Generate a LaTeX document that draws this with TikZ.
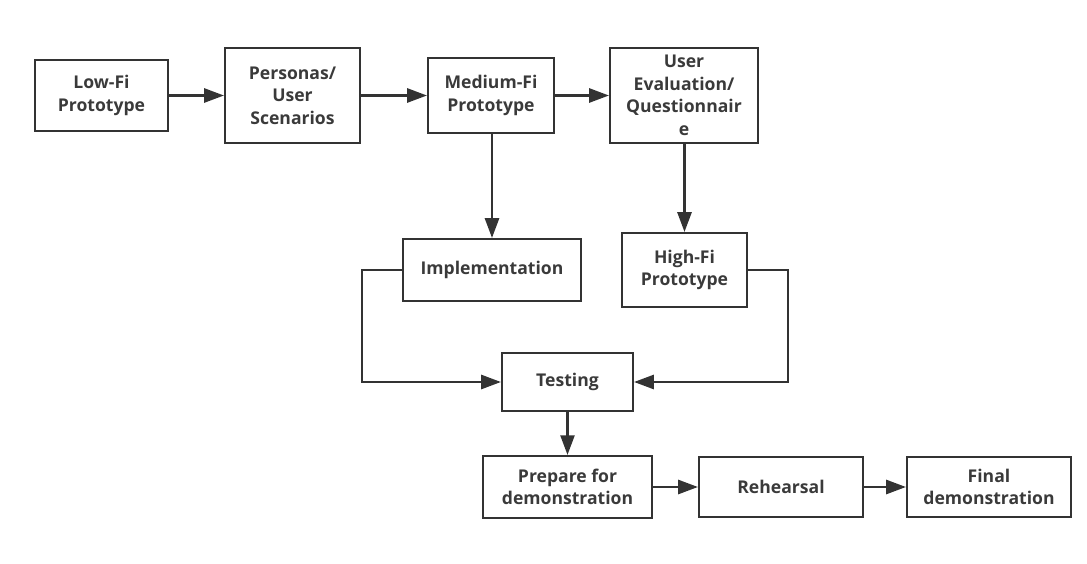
\documentclass[tikz,border=0pt]{standalone}
\usepackage{fontspec}
\setmainfont{Open Sans}
\usetikzlibrary{arrows.meta}

\definecolor{linegray}{HTML}{333333}
\definecolor{textgray}{HTML}{3A3A3A}

\tikzset{
    stage/.style={draw=linegray, line width=1.5pt, rectangle, align=center, inner sep=0pt,
        text=textgray, font=\fontsize{12.5}{16}\selectfont\bfseries},
    flow/.style={linegray, line width=1.6pt, -{Triangle[length=14pt, width=10pt]}}
}

\begin{document}
\begin{tikzpicture}[x=0.025cm, y=-0.025cm]
        \useasboundingbox (0,0) rectangle (1087,564);

        % top row
        \node[stage, minimum width=3.325cm, minimum height=1.775cm] (lowfi) at (101.5,95.5) {Low-Fi\\Prototype};
        \node[stage, minimum width=3.375cm, minimum height=2.375cm] (personas) at (292.5,95.5) {Personas/\\User\\Scenarios};
        \node[stage, minimum width=3.15cm, minimum height=1.875cm] (medfi) at (491,95.5) {Medium-Fi\\Prototype};
        \node[stage, minimum width=3.7cm, minimum height=2.375cm] (usereval) at (684,95.5) {User\\Evaluation/\\Questionnair\\e};

        % middle
        \node[stage, minimum width=4.45cm, minimum height=1.55cm] (impl) at (492,270) {Implementation};
        \node[stage, minimum width=3.125cm, minimum height=1.85cm] (highfi) at (684.5,270) {High-Fi\\Prototype};
        \node[stage, minimum width=3.275cm, minimum height=1.45cm] (testing) at (567.5,382) {Testing};

        % bottom row
        \node[stage, minimum width=4.225cm, minimum height=1.55cm] (prepare) at (567.5,487) {Prepare for\\demonstration};
        \node[stage, minimum width=4.1cm, minimum height=1.5cm] (rehearsal) at (781,487) {Rehearsal};
        \node[stage, minimum width=4.1cm, minimum height=1.5cm] (final) at (989,487) {Final\\demonstration};

        \draw[flow] (lowfi) -- (personas);
        \draw[flow] (personas) -- (medfi);
        \draw[flow] (medfi) -- (usereval);
        \draw[flow] (medfi.south -| impl.north) -- (impl.north);
        \draw[flow] (usereval.south -| highfi.north) -- (highfi.north);
        \draw[flow] (impl.west) -- ++(-40,0) |- (testing.west);
        \draw[flow] (highfi.east) -- ++(40,0) |- (testing.east);
        \draw[flow] (testing) -- (prepare);
        \draw[flow] (prepare) -- (rehearsal);
        \draw[flow] (rehearsal) -- (final);
    \end{tikzpicture}
\end{document}
